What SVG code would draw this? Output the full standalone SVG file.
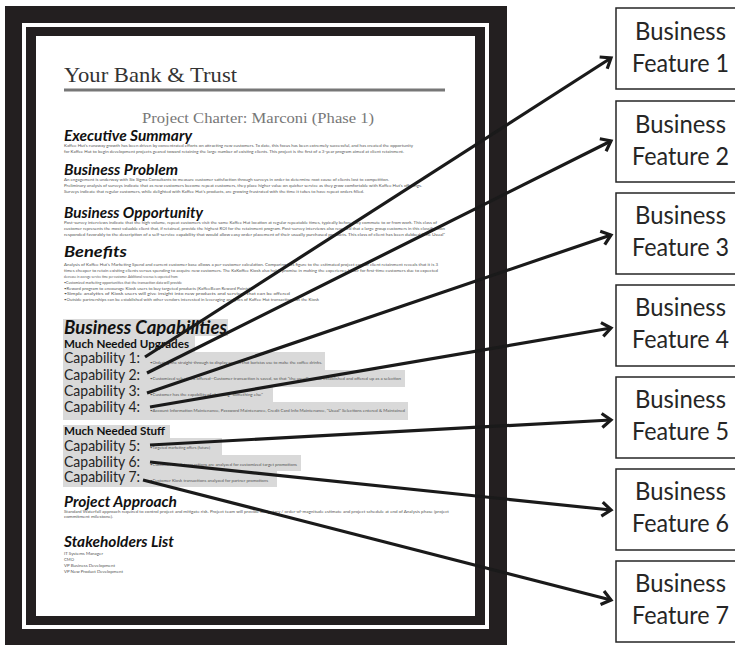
<svg xmlns="http://www.w3.org/2000/svg" width="735" height="645" viewBox="0 0 735 645">
<style>
.frame{fill:#231f20}
.page{fill:#ffffff}
.hl{fill:#d9d9d9}
.h{font-family:Lato,"Liberation Sans",sans-serif;font-weight:bold;font-style:italic;fill:#111;font-size:14.5px}
.sub{font-family:Lato,"Liberation Sans",sans-serif;font-weight:bold;fill:#111;font-size:11.5px}
.cap{font-family:Lato,"Liberation Sans",sans-serif;fill:#262626;font-size:15px}
.t{font-family:Lato,"Liberation Sans",sans-serif;fill:#555;font-size:4px}
.box{fill:#fff;stroke:#262626;stroke-width:1.5}
.bt{font-family:Lato,"Liberation Sans",sans-serif;fill:#262626;font-size:25px;text-anchor:middle}
.con{stroke:#1a1a1a;stroke-width:3.2;fill:none;marker-end:url(#ah)}
</style>
<defs>
<marker id="ah" markerUnits="userSpaceOnUse" markerWidth="18" markerHeight="18" refX="13" refY="8" orient="auto" overflow="visible">
<path d="M4,1 L13,8 L4,15" fill="none" stroke="#1a1a1a" stroke-width="3.2"/>
</marker>
</defs>
<rect width="735" height="645" fill="#fff"/>
<g id="document">
<rect class="frame" x="5" y="6" width="502" height="645"/>
<rect class="page" x="22" y="23" width="467" height="606"/>
<rect class="frame" x="26" y="27" width="459" height="598"/>
<rect class="page" x="36" y="36" width="439" height="580"/>
<text x="64" y="82" font-family="'Liberation Serif',serif" font-size="21" fill="#333" textLength="173" lengthAdjust="spacingAndGlyphs">Your Bank &amp; Trust</text>
<rect x="64" y="88.5" width="381" height="3" fill="#777"/>
<text x="142" y="123" font-family="'Liberation Serif',serif" font-size="14.5" fill="#777" textLength="232" lengthAdjust="spacingAndGlyphs">Project Charter: Marconi (Phase 1)</text>
<text class="h" x="64" y="141" textLength="128" lengthAdjust="spacingAndGlyphs">Executive Summary</text>
<text class="t" x="64" y="147" textLength="349" lengthAdjust="spacingAndGlyphs">Kaffee Hut's runaway growth has been driven by concentrated efforts on attracting new customers. To date, this focus has been extremely successful, and has created the opportunity</text>
<text class="t" x="64" y="153" textLength="340" lengthAdjust="spacingAndGlyphs">for Kaffee Hut to begin development projects geared toward retaining the large number of existing clients. This project is the first of a 3-year program aimed at client retainment.</text>
<text class="h" x="64" y="175" textLength="114" lengthAdjust="spacingAndGlyphs">Business Problem</text>
<text class="t" x="64" y="181" textLength="325" lengthAdjust="spacingAndGlyphs">An engagement is underway with Six Sigma Consultants to measure customer satisfaction through surveys in order to determine root cause of clients lost to competition.</text>
<text class="t" x="64" y="187" textLength="358" lengthAdjust="spacingAndGlyphs">Preliminary analysis of surveys indicate that as new customers become repeat customers, they place higher value on quicker service as they grow comfortable with Kaffee Hut's offerings.</text>
<text class="t" x="64" y="193" textLength="300" lengthAdjust="spacingAndGlyphs">Surveys indicate that regular customers, while delighted with Kaffee Hut's products, are growing frustrated with the time it takes to have repeat orders filled.</text>
<text class="h" x="64" y="218" textLength="139" lengthAdjust="spacingAndGlyphs">Business Opportunity</text>
<text class="t" x="64" y="224" textLength="373" lengthAdjust="spacingAndGlyphs">Post-survey interviews indicate that the high volume, repeat customers visit the same Kaffee Hut location at regular repeatable times, typically before they commute to or from work.  This class of</text>
<text class="t" x="64" y="230" textLength="381" lengthAdjust="spacingAndGlyphs">customer represents the most valuable client that, if retained, provide the highest ROI for the retainment program.  Post-survey interviews also revealed that a large group customers in this classification</text>
<text class="t" x="64" y="236" textLength="381" lengthAdjust="spacingAndGlyphs">responded favorably to the description of a self-service capability that would allow easy order placement of their usually purchased products. This class of client has been dubbed "The Usual"</text>
<text class="h" x="64" y="257" textLength="63" lengthAdjust="spacingAndGlyphs">Benefits</text>
<text class="t" x="64" y="266" textLength="374" lengthAdjust="spacingAndGlyphs">Analysis of Kaffee Hut's Marketing Spend and current customer base allows a per-customer calculation. Comparing this figure to the estimated project cost of client retainment reveals that it is 3</text>
<text class="t" x="64" y="272" textLength="374" lengthAdjust="spacingAndGlyphs">times cheaper to retain existing clients versus spending to acquire new customers.  The KaKoffee Kiosk also holds promise in making the experience faster for first-time customers due to expected</text>
<text class="t" x="64" y="278" textLength="114" lengthAdjust="spacingAndGlyphs">decrease in average service time per customer.  Additional revenue is expected from:</text>
<text class="t" x="64" y="284" textLength="118" lengthAdjust="spacingAndGlyphs">•Customized marketing opportunities that the transaction data will provide</text>
<text class="t" x="64" y="290" textLength="186" lengthAdjust="spacingAndGlyphs">•Reward program to encourage Kiosk users to buy targeted products (KaffeeBean Reward Points)</text>
<text class="t" x="64" y="295" textLength="226" lengthAdjust="spacingAndGlyphs">•Simple analytics of Kiosk users will give insight into new products and services that can be offered</text>
<text class="t" x="64" y="301" textLength="255" lengthAdjust="spacingAndGlyphs">•Outside partnerships can be established with other vendors interested in leveraging analytics of Kaffee Hut transactions on the Kiosk</text>
<rect class="hl" x="63" y="319" width="165" height="17"/>
<text class="h" x="64" y="334" font-size="18" textLength="163" lengthAdjust="spacingAndGlyphs" style="font-size:18px">Business Capabilities</text>
<rect class="hl" x="63" y="336" width="132" height="16"/>
<text class="sub" x="64" y="348" textLength="125" lengthAdjust="spacingAndGlyphs">Much Needed Upgrades</text>
<rect class="hl" x="63" y="352" width="262" height="18"/>
<rect class="hl" x="63" y="370" width="342" height="17"/>
<rect class="hl" x="63" y="387" width="210" height="15"/>
<rect class="hl" x="63" y="402" width="345" height="18"/>
<text class="cap" x="64" y="363" textLength="76" lengthAdjust="spacingAndGlyphs">Capability 1:</text>
<text class="cap" x="64" y="380" textLength="76" lengthAdjust="spacingAndGlyphs">Capability 2:</text>
<text class="cap" x="64" y="396" textLength="76" lengthAdjust="spacingAndGlyphs">Capability 3:</text>
<text class="cap" x="64" y="412" textLength="76" lengthAdjust="spacingAndGlyphs">Capability 4:</text>
<text class="t" x="150" y="364" textLength="172" lengthAdjust="spacingAndGlyphs">•Ordering line straight-through to display screen that baristas use to make the coffee drinks.</text>
<text class="t" x="150" y="380" textLength="251" lengthAdjust="spacingAndGlyphs">•Customized selections offered--Customer transaction is saved, so that "the usual" can be established and offered up as a selection</text>
<text class="t" x="150" y="396" textLength="113" lengthAdjust="spacingAndGlyphs">•Customer has the capability of choosing "something else"</text>
<text class="t" x="150" y="412" textLength="255" lengthAdjust="spacingAndGlyphs">•Account Information Maintenance, Password Maintenance, Credit Card Info Maintenance, "Usual" Selections entered &amp; Maintained</text>
<rect class="hl" x="63" y="425" width="107" height="13"/>
<text class="sub" x="64" y="435" textLength="101" lengthAdjust="spacingAndGlyphs">Much Needed Stuff</text>
<rect class="hl" x="63" y="438" width="159" height="17"/>
<rect class="hl" x="63" y="455" width="238" height="16"/>
<rect class="hl" x="63" y="471" width="214" height="16"/>
<text class="cap" x="64" y="451" textLength="76" lengthAdjust="spacingAndGlyphs">Capability 5:</text>
<text class="cap" x="64" y="467" textLength="76" lengthAdjust="spacingAndGlyphs">Capability 6:</text>
<text class="cap" x="64" y="482" textLength="76" lengthAdjust="spacingAndGlyphs">Capability 7:</text>
<text class="t" x="150" y="449" textLength="60" lengthAdjust="spacingAndGlyphs">•Targeted marketing offers (future)</text>
<text class="t" x="150" y="466" textLength="147" lengthAdjust="spacingAndGlyphs">•Customer Kiosk transactions are analyzed for customized target promotions</text>
<text class="t" x="150" y="482" textLength="118" lengthAdjust="spacingAndGlyphs">•Customer Kiosk transactions analyzed for partner promotions</text>
<text class="h" x="64" y="507" textLength="113" lengthAdjust="spacingAndGlyphs">Project Approach</text>
<text class="t" x="64" y="513" textLength="385" lengthAdjust="spacingAndGlyphs">Standard Waterfall approach required to control project and mitigate risk.  Project team will provide budgetary / order-of-magnitude estimate and project schedule at end of Analysis phase (project</text>
<text class="t" x="64" y="518" textLength="49" lengthAdjust="spacingAndGlyphs">commitment milestone).</text>
<text class="h" x="64" y="547" textLength="110" lengthAdjust="spacingAndGlyphs">Stakeholders List</text>
<text class="t" x="64" y="555" textLength="39" lengthAdjust="spacingAndGlyphs">IT Systems Manager</text>
<text class="t" x="64" y="561" textLength="10" lengthAdjust="spacingAndGlyphs">CMO</text>
<text class="t" x="64" y="567" textLength="51" lengthAdjust="spacingAndGlyphs">VP Business Development</text>
<text class="t" x="64" y="573" textLength="59" lengthAdjust="spacingAndGlyphs">VP New Product Development</text>
</g>
<g id="feature1"><rect class="box" x="616" y="8" width="130" height="81"/><text class="bt" x="680.5" y="40" textLength="91" lengthAdjust="spacingAndGlyphs">Business</text><text class="bt" x="680.5" y="72" textLength="97" lengthAdjust="spacingAndGlyphs">Feature 1</text></g>
<g id="feature2"><rect class="box" x="616" y="101" width="130" height="81"/><text class="bt" x="680.5" y="133" textLength="91" lengthAdjust="spacingAndGlyphs">Business</text><text class="bt" x="680.5" y="165" textLength="97" lengthAdjust="spacingAndGlyphs">Feature 2</text></g>
<g id="feature3"><rect class="box" x="616" y="193" width="130" height="81"/><text class="bt" x="680.5" y="224" textLength="91" lengthAdjust="spacingAndGlyphs">Business</text><text class="bt" x="680.5" y="256" textLength="97" lengthAdjust="spacingAndGlyphs">Feature 3</text></g>
<g id="feature4"><rect class="box" x="616" y="285" width="130" height="81"/><text class="bt" x="680.5" y="316" textLength="91" lengthAdjust="spacingAndGlyphs">Business</text><text class="bt" x="680.5" y="348" textLength="97" lengthAdjust="spacingAndGlyphs">Feature 4</text></g>
<g id="feature5"><rect class="box" x="616" y="377" width="130" height="81"/><text class="bt" x="680.5" y="408" textLength="91" lengthAdjust="spacingAndGlyphs">Business</text><text class="bt" x="680.5" y="440" textLength="97" lengthAdjust="spacingAndGlyphs">Feature 5</text></g>
<g id="feature6"><rect class="box" x="616" y="469" width="130" height="81"/><text class="bt" x="680.5" y="500" textLength="91" lengthAdjust="spacingAndGlyphs">Business</text><text class="bt" x="680.5" y="532" textLength="97" lengthAdjust="spacingAndGlyphs">Feature 6</text></g>
<g id="feature7"><rect class="box" x="616" y="561" width="130" height="81"/><text class="bt" x="680.5" y="592" textLength="91" lengthAdjust="spacingAndGlyphs">Business</text><text class="bt" x="680.5" y="624" textLength="97" lengthAdjust="spacingAndGlyphs">Feature 7</text></g>
<g id="connectors">
<line class="con" x1="145" y1="357" x2="611" y2="58"/>
<line class="con" x1="147" y1="373" x2="611" y2="141"/>
<line class="con" x1="147" y1="393" x2="611" y2="235"/>
<line class="con" x1="150" y1="407" x2="611" y2="328"/>
<line class="con" x1="150" y1="445" x2="611" y2="420"/>
<line class="con" x1="150" y1="462" x2="611" y2="510"/>
<line class="con" x1="143" y1="480" x2="611" y2="600"/>
</g>
</svg>
